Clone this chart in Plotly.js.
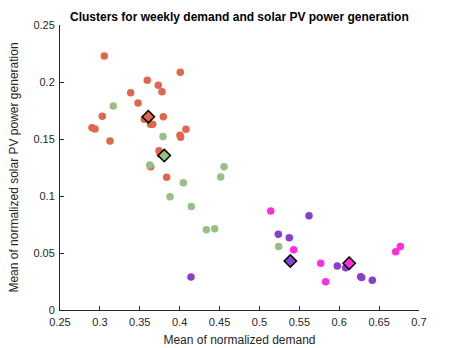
<!DOCTYPE html>
<html>
<head>
<meta charset="utf-8">
<script src="https://cdn.plot.ly/plotly-3.0.1.min.js"></script>
<style>
  html, body { margin: 0; padding: 0; background: #fff; }
  #chart { width: 463px; height: 348px; }
</style>
</head>
<body>
<div id="chart"></div>
<script>
// cluster members: mean normalized demand (x) vs mean normalized PV generation (y)
const redX = [0.3055, 0.4008, 0.3594, 0.3732, 0.3779, 0.3386, 0.3478, 0.3030, 0.3795, 0.3557,
  0.3635, 0.3662, 0.2901, 0.2939, 0.4079, 0.4004, 0.4012, 0.3127, 0.3741, 0.3755, 0.3637, 0.3837];
const redY = [0.2228, 0.2085, 0.2015, 0.1971, 0.1915, 0.1906, 0.1816, 0.1699, 0.1696, 0.1673,
  0.1629, 0.1629, 0.1599, 0.1588, 0.1585, 0.1532, 0.1516, 0.1482, 0.1398, 0.1366, 0.1257, 0.1164];

const greenX = [0.3168, 0.3791, 0.3624, 0.4557, 0.4514, 0.4046, 0.3879, 0.4146, 0.4334, 0.4439, 0.5241];
const greenY = [0.1789, 0.1523, 0.1272, 0.1257, 0.1167, 0.1117, 0.0994, 0.0907, 0.0705, 0.0713, 0.0556];

const purpleX = [0.4142, 0.5621, 0.5237, 0.5374, 0.5387, 0.5976, 0.6081, 0.6269, 0.6281, 0.6415];
const purpleY = [0.0290, 0.0827, 0.0664, 0.0634, 0.0430, 0.0386, 0.0371, 0.0292, 0.0284, 0.0260];

const magentaX = [0.5141, 0.5429, 0.5768, 0.5830, 0.6122, 0.6708, 0.6766];
const magentaY = [0.0868, 0.0529, 0.0410, 0.0248, 0.0410, 0.0511, 0.0556];

// cluster centroids (diamonds)
const centX = [0.3607, 0.3807, 0.5387, 0.6125];
const centY = [0.1696, 0.1355, 0.0430, 0.0410];

const colors = ["#e0674d", "#97c184", "#8a3fcc", "#ff2edc"];

const groups = [
  [redX, redY], [greenX, greenY], [purpleX, purpleY], [magentaX, magentaY]
];

const traces = groups.map((g, i) => ({
  x: g[0],
  y: g[1],
  mode: "markers",
  type: "scatter",
  marker: { size: 7.5, color: colors[i] },
  hoverinfo: "x+y",
}));

traces.push({
  x: centX,
  y: centY,
  mode: "markers",
  type: "scatter",
  marker: {
    symbol: "diamond",
    size: 9.5,
    color: colors,
    line: { color: "#000", width: 1.5 },
  },
});

const axisCommon = {
  showgrid: false,
  zeroline: false,
  showline: true,
  linecolor: "#262626",
  linewidth: 1,
  ticks: "inside",
  ticklen: 4,
  tickcolor: "#262626",
  tickfont: { size: 11, color: "#262626" },
  mirror: false,
};

const layout = {
  width: 463,
  height: 348,
  showlegend: false,
  paper_bgcolor: "#fff",
  plot_bgcolor: "#fff",
  font: { family: "Liberation Sans, Arial, sans-serif", color: "#262626" },
  title: {
    text: "<b>Clusters for weekly demand and solar PV power generation</b>",
    font: { size: 12, color: "#000" },
    x: 0.517,
    xanchor: "center",
    y: 0.953,
    yanchor: "middle",
  },
  xaxis: {
    ...axisCommon,
    range: [0.25, 0.7],
    tickvals: [0.25, 0.3, 0.35, 0.4, 0.45, 0.5, 0.55, 0.6, 0.65, 0.7],
    ticktext: ["0.25", "0.3", "0.35", "0.4", "0.45", "0.5", "0.55", "0.6", "0.65", "0.7"],
    ticklabelstandoff: 2,
    title: { text: "Mean of normalized demand", font: { size: 12, color: "#262626" }, standoff: 8 },
  },
  yaxis: {
    ...axisCommon,
    range: [0, 0.25],
    tickvals: [0, 0.05, 0.1, 0.15, 0.2, 0.25],
    ticktext: ["0", "0.05", "0.1", "0.15", "0.2", "0.25"],
    ticklabelstandoff: 2,
    title: { text: "Mean of normalized solar PV power generation", font: { size: 12, color: "#262626" }, standoff: 12 },
  },
  margin: { l: 60, r: 44, t: 25, b: 38 },
};

Plotly.newPlot("chart", traces, layout, { displayModeBar: false, responsive: false });
</script>
</body>
</html>
